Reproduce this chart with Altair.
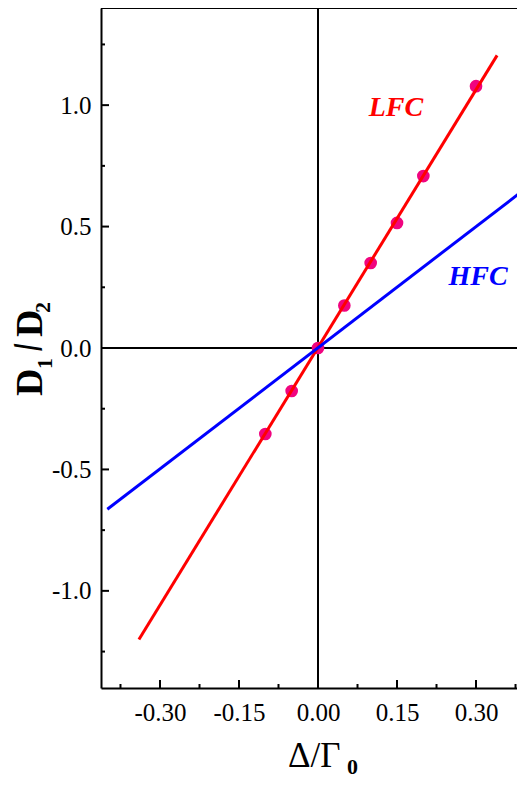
import altair as alt
import pandas as pd

# ---- data ----
pt_x = [-0.10, -0.05, 0.00, 0.05, 0.10, 0.15, 0.20, 0.30]
pt_y = [-0.354, -0.177, 0.0, 0.175, 0.350, 0.515, 0.708, 1.078]

lfc_x = [-0.34, 0.34]
lfc_y = [-1.20, 1.205]

hfc_x = [-0.40, 0.40]
hfc_y = [-0.664, 0.666]

x_major = [-0.30, -0.15, 0.00, 0.15, 0.30]
x_minor = [-0.375, -0.225, -0.075, 0.075, 0.225, 0.375]
y_major = [-1.0, -0.5, 0.0, 0.5, 1.0]
y_minor = [-1.25, -0.75, -0.25, 0.25, 0.75, 1.25]

labels_txt = ["LFC", "HFC"]
labels_x = [0.148, 0.304]
labels_y = [0.988, 0.292]
labels_col = ["#FF0000", "#0000FF"]

X_DOMAIN = [-0.412, 0.393]
Y_DOMAIN = [-1.4, 1.4]
W, H = 424, 680
FONT = "Liberation Serif"

xs = alt.Scale(domain=X_DOMAIN, nice=False, zero=False)
ys = alt.Scale(domain=Y_DOMAIN, nice=False, zero=False)

xaxis = alt.Axis(values=x_major, ticks=False, grid=False, domain=True, domainColor="black",
                 domainWidth=2, labelFont=FONT, labelFontSize=25, labelColor="black",
                 labelPadding=12, title=None, labelFlush=False,
                 labelExpr="(datum.value < 0 ? '-' : '') + format(abs(datum.value), '.2f')")
yaxis = alt.Axis(values=y_major, ticks=False, grid=False, domain=True, domainColor="black",
                 domainWidth=2, labelFont=FONT, labelFontSize=25, labelColor="black",
                 labelPadding=10, title=None, labelFlush=False,
                 labelExpr="(datum.value < 0 ? '-' : '') + format(abs(datum.value), '.1f')")


def X(f):
    return alt.X(f, type="quantitative", scale=xs, axis=xaxis)


def Y(f):
    return alt.Y(f, type="quantitative", scale=ys, axis=yaxis)


pts = pd.DataFrame({"x": pt_x, "y": pt_y})
lfc = pd.DataFrame({"x": lfc_x, "y": lfc_y})
hfc = pd.DataFrame({"x": hfc_x, "y": hfc_y})
xmaj = pd.DataFrame({"x": x_major})
xmin = pd.DataFrame({"x": x_minor})
ymaj = pd.DataFrame({"y": y_major})
ymin = pd.DataFrame({"y": y_minor})
zx = pd.DataFrame({"x": [0.0]})
zy = pd.DataFrame({"y": [0.0]})
lab = pd.DataFrame({"t": labels_txt, "x": labels_x, "y": labels_y, "c": labels_col})
one = pd.DataFrame({"a": [0]})

layers = []
# zero lines
layers.append(alt.Chart(zx).mark_rule(color="black", strokeWidth=2).encode(
    x=X("x"), y=alt.value(0), y2=alt.value(H)))
layers.append(alt.Chart(zy).mark_rule(color="black", strokeWidth=2).encode(
    y=Y("y"), x=alt.value(0), x2=alt.value(W)))
# inward ticks
layers.append(alt.Chart(xmaj).mark_rule(color="black", strokeWidth=2).encode(
    x=X("x"), y=alt.value(H), y2=alt.value(H - 8)))
layers.append(alt.Chart(xmin).mark_rule(color="black", strokeWidth=2).encode(
    x=X("x"), y=alt.value(H), y2=alt.value(H - 4)))
layers.append(alt.Chart(ymaj).mark_rule(color="black", strokeWidth=2).encode(
    y=Y("y"), x=alt.value(0), x2=alt.value(8)))
layers.append(alt.Chart(ymin).mark_rule(color="black", strokeWidth=2).encode(
    y=Y("y"), x=alt.value(0), x2=alt.value(4)))
# top frame
layers.append(alt.Chart(one).mark_rule(color="black", strokeWidth=2).encode(
    x=alt.value(0), x2=alt.value(W), y=alt.value(0)))
# data
layers.append(alt.Chart(pts).mark_circle(color="#F0047F", opacity=1, size=160).encode(
    x=X("x"), y=Y("y")))
layers.append(alt.Chart(lfc).mark_line(color="#FF0000", strokeWidth=3, clip=True).encode(
    x=X("x"), y=Y("y")))
layers.append(alt.Chart(hfc).mark_line(color="#0000FF", strokeWidth=3, clip=True).encode(
    x=X("x"), y=Y("y")))
# series labels
layers.append(alt.Chart(lab).mark_text(font=FONT, fontSize=28, fontWeight="bold", fontStyle="italic",
                                       align="center", baseline="middle").encode(
    x=X("x"), y=Y("y"), text="t:N", color=alt.Color("c:N", scale=None)))

# y title pieces: D1/D2 (rotated, reading upward)
ytitle = [("D", 38, -58.7, 388, 270, "left", "alphabetic"),
          ("1", 22, -49.5, 361, 270, "left", "alphabetic"),
          ("/", 40, -72, 339, 260, "center", "middle"),
          ("D", 38, -58.7, 329, 270, "left", "alphabetic"),
          ("2", 22, -51, 305, 270, "left", "alphabetic")]
for t, s, px, py, ang, al, bl in ytitle:
    layers.append(alt.Chart(one).mark_text(font=FONT, fontSize=s, fontWeight="bold", angle=ang,
                                           align=al, baseline=bl, color="black").encode(
        x=alt.value(px), y=alt.value(py), text=alt.value(t)))

# x title pieces: Δ/Γ0
layers.append(alt.Chart(one).mark_text(font=FONT, fontSize=35, align="left", baseline="alphabetic",
                                       color="black").encode(
    x=alt.value(187), y=alt.value(759), text=alt.value("Δ/Γ")))
layers.append(alt.Chart(one).mark_text(font=FONT, fontSize=22, fontWeight="bold", align="left",
                                       baseline="alphabetic", color="black").encode(
    x=alt.value(246), y=alt.value(766), text=alt.value("0")))

chart = alt.layer(*layers).properties(
    width=W, height=H,
    autosize=alt.AutoSizeParams(type="none"),
    padding={"left": 93, "right": -8, "top": 0, "bottom": 89},
).configure_view(stroke=None)

chart.save("out.html", embed_options={"renderer": "svg", "actions": False})
